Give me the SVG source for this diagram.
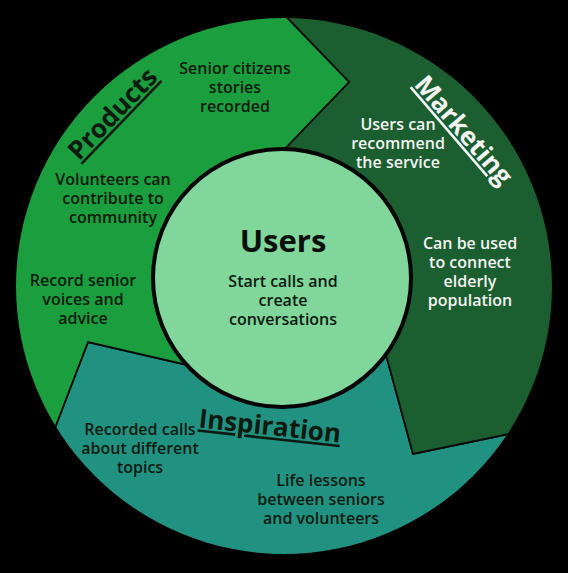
<svg xmlns="http://www.w3.org/2000/svg" width="568" height="573" viewBox="0 0 568 573">
<defs>
<clipPath id="ring"><circle cx="284" cy="286" r="268"/></clipPath>
<style>
.seg{stroke:#0a0a0a;stroke-width:1.8;stroke-linejoin:miter}
.t{font-family:"Open Sans","Noto Sans","Liberation Sans",sans-serif;font-size:16px;font-weight:600;text-anchor:middle}
.dk{fill:#0c1a10}
.wt{fill:#f4f4f4}
.title{font-family:"Open Sans","Noto Sans","Liberation Sans",sans-serif;font-size:26px;font-weight:700;text-anchor:middle;text-decoration:underline}
</style>
</defs>
<rect x="0" y="0" width="568" height="573" fill="#000"/>
<g id="connectors"></g>
<g clip-path="url(#ring)">
<g id="inspiration-shape"><polygon class="seg" fill="#219282" points="30,493 88,342 200,368 282,278 382,340 413,454 600,415 600,600 -10,600 -10,493"/></g>
<g id="marketing-shape"><polygon class="seg" fill="#1b5e2f" points="268,-2 349,82 277,157 282,278 382,340 413,454 600,415 600,-2"/></g>
<g id="products-shape"><polygon class="seg" fill="#1b9e3d" points="268,-2 349,82 277,157 282,278 200,368 88,342 30,493 -10,493 -10,-2"/></g>
</g>
<g id="users">
<circle cx="282" cy="278" r="129" fill="#80d69b" stroke="#050505" stroke-width="4"/>
<text x="283" y="252" font-family="'Open Sans','Noto Sans','Liberation Sans',sans-serif" font-size="31" font-weight="700" text-anchor="middle" fill="#0a0f0a">Users</text>
<text class="t dk"><tspan x="283" y="287">Start calls and</tspan><tspan x="283" y="306">create</tspan><tspan x="283" y="325">conversations</tspan></text>
</g>
<g id="products">
<text class="title dk" transform="translate(119,120) rotate(-46)">Products</text>
<text class="t dk"><tspan x="235" y="74">Senior citizens</tspan><tspan x="235" y="93">stories</tspan><tspan x="235" y="112">recorded</tspan></text>
<text class="t dk"><tspan x="113" y="185">Volunteers can</tspan><tspan x="113" y="204">contribute to</tspan><tspan x="113" y="223">community</tspan></text>
<text class="t dk"><tspan x="83" y="286">Record senior</tspan><tspan x="83" y="305">voices and</tspan><tspan x="83" y="324">advice</tspan></text>
</g>
<g id="marketing">
<text class="title wt" transform="translate(457,136) rotate(49.3)">Marketing</text>
<text class="t wt"><tspan x="398" y="130">Users can</tspan><tspan x="398" y="149">recommend</tspan><tspan x="398" y="168">the service</tspan></text>
<text class="t wt"><tspan x="470" y="249">Can be used</tspan><tspan x="470" y="268">to connect</tspan><tspan x="470" y="287">elderly</tspan><tspan x="470" y="306">population</tspan></text>
</g>
<g id="inspiration">
<text class="title dk" transform="translate(269,435) rotate(6.2)">Inspiration</text>
<text class="t dk"><tspan x="140" y="435">Recorded calls</tspan><tspan x="140" y="454">about different</tspan><tspan x="140" y="473">topics</tspan></text>
<text class="t dk"><tspan x="321" y="486">Life lessons</tspan><tspan x="321" y="505">between seniors</tspan><tspan x="321" y="524">and volunteers</tspan></text>
</g>
</svg>
